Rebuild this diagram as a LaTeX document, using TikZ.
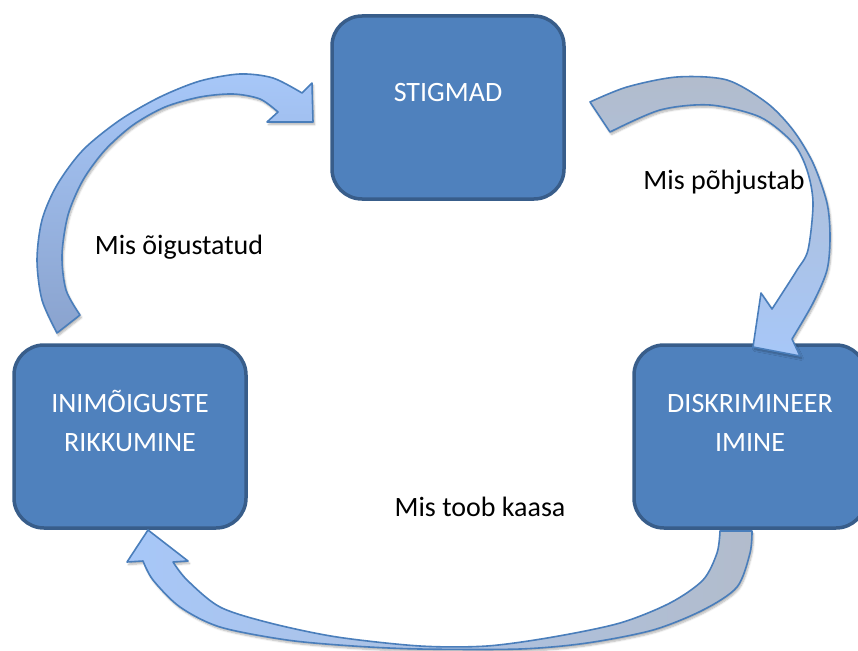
\documentclass[tikz,border=0pt]{standalone}
\usepackage{fontspec}
\setmainfont{Carlito}
\usetikzlibrary{shadows.blur}
\definecolor{boxfill}{HTML}{4F81BD}
\definecolor{boxline}{HTML}{385D8A}
\definecolor{ribbonline}{HTML}{4A7EBB}
\definecolor{headblue}{HTML}{A7C7F8}
\definecolor{tailgray}{HTML}{B2BCCC}
\definecolor{taildark}{HTML}{8AA3CE}
\tikzset{
  box/.style = {draw=boxline, fill=boxfill, line width=3.5pt, rounded corners=30pt,
    minimum width=232pt, minimum height=183pt},
  boxtext/.style = {text=white, align=center, font=\fontsize{28}{39}\selectfont},
  caption/.style = {anchor=base, font=\fontsize{28}{34}\selectfont},
  ribbon/.style = {postaction={draw=ribbonline, line width=1.6pt, line join=round},
    blur shadow={shadow xshift=1.5pt, shadow yshift=-2.5pt, shadow blur steps=6, shadow opacity=30}}
}

\begin{document}
\begin{tikzpicture}[x=1pt, y=-1pt]
  \useasboundingbox (0,0) rectangle (858,650);
  \clip (0,0) rectangle (858,650);
  \node[box] (stig) at (448,107.5) {};
  \node[box] (rikk) at (130,436.5) {};
  \node[box] (diskr) at (750,436.5) {};
  \node[boxtext] (stigtext) at (448,93) {STIGMAD};
  \node[boxtext] (rikktext) at (130,421) {INIMÕIGUSTE\\RIKKUMINE};
  \node[boxtext] (diskrtext) at (750,423) {DISKRIMINEER\\IMINE};
  % curved arrows
  \path[ribbon, bottom color=taildark, top color=headblue]
    plot[smooth] coordinates {(57,333) (42,300) (37,260) (42,220) (57,185) (83,150) (120,120) (160,97) (200,81) (240,74) (273,78) (302,93)}
    -- (312,83) -- (313,122) -- (267,122)
    -- plot[smooth] coordinates {(278,112) (260,99) (233,94) (200,97) (165,107) (133,125) (105,150) (83,180) (68,215) (62,255) (66,290) (80,315)}
    -- cycle;
  \path[ribbon, top color=tailgray, bottom color=headblue]
    plot[smooth] coordinates {(590,102) (627,87) (677,77) (727,80) (767,103) (793,130) (813,163) (827,203) (830,237) (827,270) (813,303) (792,339)}
    -- (800,356) -- (753,347) -- (761,293)
    -- plot[smooth] coordinates {(772,309) (783,292) (797,270) (808,250) (813,203) (807,170) (793,143) (760,117) (710,105) (660,110) (610,132)}
    -- cycle;
  \path[ribbon, left color=headblue, right color=tailgray]
    (148,530) -- (188,561)
    -- plot[smooth] coordinates {(173,562) (187,580) (220,607) (270,623) (337,637) (420,646) (487,646) (553,637) (620,623) (670,603) (703,580) (717,553) (720,531)}
    -- plot[smooth] coordinates {(752,531) (750,553) (737,587) (703,610) (653,630) (587,643) (520,649) (420,649) (353,646) (287,640) (220,627) (180,607) (153,580) (143,561)}
    -- (127,562) -- cycle;
  \node[caption] (justify) at (179,254) {Mis õigustatud};
  \node[caption] (cause) at (724,189) {Mis põhjustab};
  \node[caption] (lead) at (480,516) {Mis toob kaasa};
\end{tikzpicture}
\end{document}
